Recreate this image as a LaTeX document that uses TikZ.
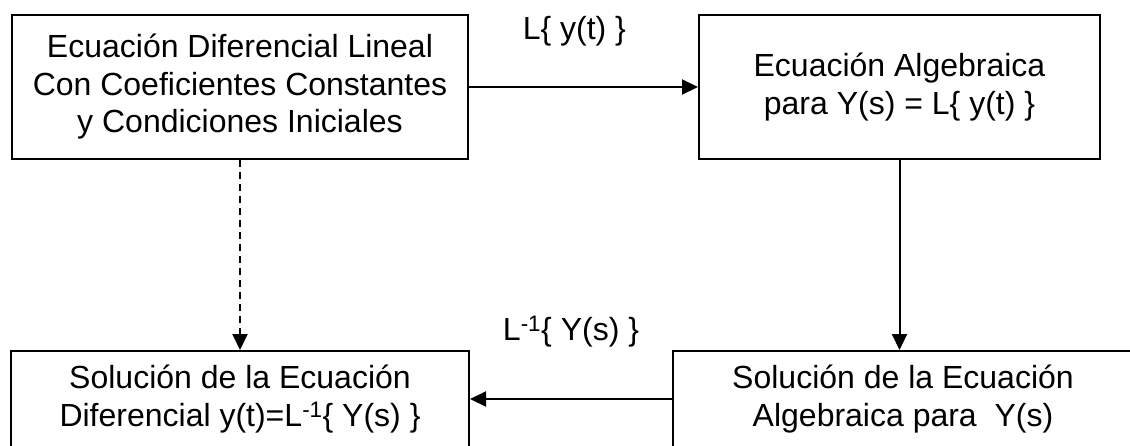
\documentclass[tikz,border=0pt]{standalone}
\usepackage{fontspec}
\setmainfont{Liberation Sans}
\usetikzlibrary{positioning, arrows.meta}
\tikzset {
    x=1pt, y=1pt,
    >={Triangle[length=16pt,width=15pt]},
    every node/.style={font=\fontsize{32}{37.5}\selectfont},
    caja/.style={draw, line width=2pt, align=center, inner sep=0pt},
    flecha/.style={->, line width=2pt}
}
\begin{document}
\begin{tikzpicture}
                \useasboundingbox (0,0) rectangle (1130,-445);

                \node[caja, minimum width=456pt, minimum height=144pt] (ecuDif) at (240,-87) {Ecuación Diferencial Lineal\\Con Coeficientes Constantes\\y Condiciones Iniciales};
                \node[caja, minimum width=401pt, minimum height=144pt, right of=ecuDif, node distance=659.5pt] (ecuAlg) {Ecuación Algebraica\\para Y(s) = L\{ y(t) \}};
                \node[caja, minimum width=458pt, minimum height=96pt, below of=ecuDif, node distance=312pt] (solDif) {Solución de la Ecuación\\Diferencial y(t)=L\textsuperscript{-1}\{ Y(s) \}};
                \node[caja, minimum width=460pt, minimum height=96pt, below of=ecuAlg, node distance=312pt, xshift=3.5pt] (solAlg) {Solución de la Ecuación\\Algebraica para~ Y(s)};

                \draw[flecha] (ecuDif) -- node[pos=0.46, yshift=56pt] (lapl) {L\{ y(t) \}} (ecuAlg);
                \draw[flecha] (ecuAlg) -- (ecuAlg |- solAlg.north);
                \draw[flecha] (solAlg) -- node[pos=0.5, yshift=67pt] (inv) {L\textsuperscript{-1}\{ Y(s) \}} (solDif);
                \draw[flecha, dash pattern=on 7pt off 5pt] (ecuDif.south) -- (ecuDif.south |- solDif.north);
\end{tikzpicture}
\end{document}
